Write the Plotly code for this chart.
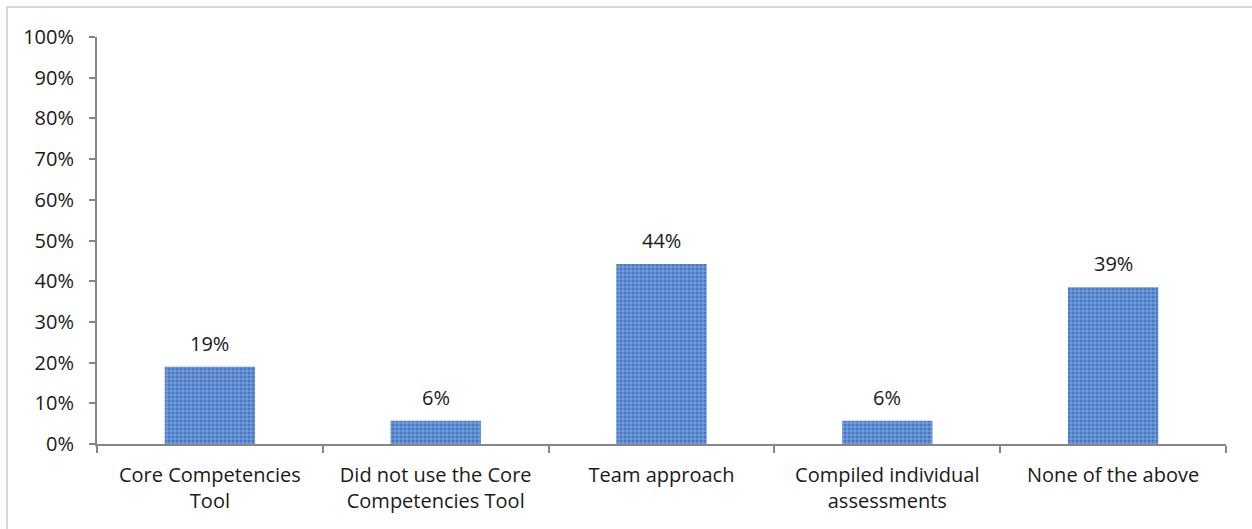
import plotly.graph_objects as go

categories = ["Core Competencies<br>Tool", "Did not use the Core<br>Competencies Tool",
              "Team approach", "Compiled individual<br>assessments", "None of the above"]
values = [0.19, 0.057, 0.442, 0.057, 0.385]
labels = ["19%", "6%", "44%", "6%", "39%"]
y_ticks = [i / 10 for i in range(11)]

FONT = "Open Sans"
TXT = "#1a1a1a"
FS = 20

fig = go.Figure(go.Bar(
    x=categories, y=values,
    marker=dict(
        color="#4477c6",
        line=dict(width=0),
        pattern=dict(shape="+", fgcolor="#9dbbe8", bgcolor="#4477c6",
                     size=4, solidity=0.3, fillmode="replace"),
    ),
))

for c, v, t in zip(categories, values, labels):
    fig.add_annotation(x=c, y=v, text=t, showarrow=False, yanchor="bottom",
                       yshift=8, font=dict(size=FS, family=FONT, color=TXT))

fig.update_layout(
    width=1252, height=529,
    margin=dict(l=97, r=26, t=37, b=85),
    paper_bgcolor="white", plot_bgcolor="white",
    bargap=0.6, showlegend=False,
    font=dict(family=FONT, size=FS, color=TXT),
    shapes=[dict(type="rect", xref="paper", yref="paper",
                 x0=-0.0797, x1=1.3, y0=-0.5, y1=1.0737,
                 line=dict(color="#d9d9d9", width=2), layer="below")],
)
fig.update_yaxes(range=[0, 1], tickvals=y_ticks, tickformat=".0%",
                 showgrid=False, zeroline=False, showline=True,
                 linecolor="#868686", linewidth=2, ticks="outside",
                 ticklen=6, tickwidth=2, tickcolor="#868686",
                 ticklabelstandoff=11,
                 tickfont=dict(size=FS, family=FONT, color=TXT))
fig.update_xaxes(showgrid=False, showline=True, linecolor="#868686", linewidth=2,
                 ticks="outside", tickson="boundaries", ticklen=7, tickwidth=2,
                 tickcolor="#868686", ticklabelstandoff=12,
                 tickfont=dict(size=FS, family=FONT, color=TXT))

fig.write_html("out.html")
